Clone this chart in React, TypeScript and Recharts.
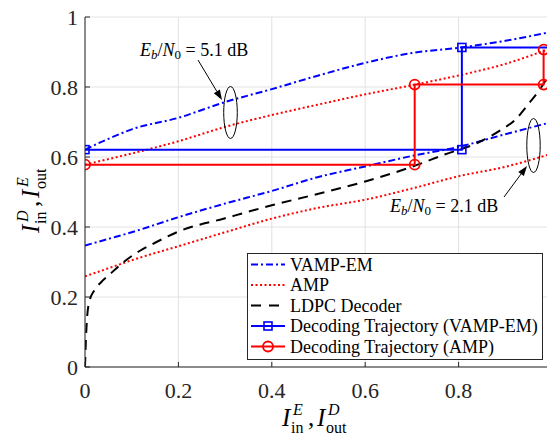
import React from 'react';
import { LineChart, Line, XAxis, YAxis, CartesianGrid } from 'recharts';

// axis ticks
const xTicks = [0, 0.2, 0.4, 0.6, 0.8, 1];
const yTicks = [0, 0.2, 0.4, 0.6, 0.8, 1];

// EXIT curves (shared x grid)
const curveX = [0, 0.05, 0.1, 0.2, 0.3, 0.4, 0.5, 0.6, 0.7, 0.8, 0.9, 1.0];
const vampHigh = [0.621, 0.652, 0.679, 0.712, 0.757, 0.794, 0.833, 0.869, 0.897, 0.912, 0.932, 0.958];
const ampHigh = [0.578, 0.594, 0.61, 0.645, 0.686, 0.72, 0.75, 0.779, 0.805, 0.833, 0.866, 0.912];
const vampLow = [0.347, 0.366, 0.385, 0.428, 0.467, 0.503, 0.543, 0.573, 0.603, 0.629, 0.665, 0.7];
const ampLow = [0.259, 0.282, 0.305, 0.345, 0.385, 0.424, 0.455, 0.478, 0.51, 0.545, 0.572, 0.61];

// LDPC decoder curve
const ldpcX = [0, 0.002, 0.005, 0.01, 0.02, 0.035, 0.05, 0.08, 0.115, 0.15, 0.2, 0.3, 0.4, 0.5, 0.6, 0.7, 0.77, 0.84, 0.89, 0.92, 0.95, 0.975, 1.0];
const ldpcY = [0, 0.08, 0.15, 0.19, 0.219, 0.243, 0.261, 0.297, 0.33, 0.355, 0.387, 0.425, 0.462, 0.495, 0.53, 0.572, 0.607, 0.64, 0.677, 0.705, 0.752, 0.795, 0.85];

// decoding trajectories
const vampTrajX = [0, 0.807, 0.807, 1.0];
const vampTrajY = [0.621, 0.621, 0.913, 0.913];
const ampTrajX = [0, 0.706, 0.706, 0.982, 0.982];
const ampTrajY = [0.578, 0.578, 0.807, 0.807, 0.907];

const zip = (xs: number[], ys: number[]) => xs.map((x, i) => ({ x, y: ys[i] }));

const BLUE = '#0000ff';
const RED = '#ff0000';
const AXIS = '#262626';
const FONT = "'Liberation Serif', 'Times New Roman', Tinos, 'DejaVu Serif', serif";
const serif = { fontFamily: FONT };

const fmt = (v: number) => (v === 0 ? '0' : v === 1 ? '1' : String(v));

// the picture is cropped just before x = 1, so that label is not shown
const BottomTick = (p: any) => (
  <g>
    <line x1={p.x} y1={p.y} x2={p.x} y2={p.y - 5} stroke={AXIS} />
    {p.payload.value < 1 && (
      <text x={p.x} y={p.y + 31} textAnchor="middle" fontSize={22} fill={AXIS} style={serif}>
        {fmt(p.payload.value)}
      </text>
    )}
  </g>
);

const TopTick = (p: any) => <line x1={p.x} y1={p.y} x2={p.x} y2={p.y + 5} stroke={AXIS} />;

const LeftTick = (p: any) => (
  <g>
    <line x1={p.x} y1={p.y} x2={p.x + 5} y2={p.y} stroke={AXIS} />
    <text x={p.x - 7} y={p.y + 8} textAnchor="end" fontSize={22} fill={AXIS} style={serif}>
      {fmt(p.payload.value)}
    </text>
  </g>
);

const SquareDot = (p: any) => (
  <rect key={`s${p.index}`} x={p.cx - 4} y={p.cy - 4} width={8} height={8} fill="none" stroke={BLUE} strokeWidth={1.6} />
);
const CircleDot = (p: any) => (
  <circle key={`c${p.index}`} cx={p.cx} cy={p.cy} r={5} fill="none" stroke={RED} strokeWidth={1.8} />
);

// I^a_b , I^c_d
const AxisTitle = ({ a, b, c, d }: { a: string; b: string; c: string; d: string }) => (
  <g fill="#000" style={serif}>
    <text x={0} y={0} fontSize={25} fontStyle="italic">I</text>
    <text x={11} y={-11} fontSize={16} fontStyle="italic">{a}</text>
    <text x={9} y={7} fontSize={16}>{b}</text>
    <text x={26} y={0} fontSize={25}>,</text>
    <text x={35} y={0} fontSize={25} fontStyle="italic">I</text>
    <text x={46} y={-11} fontSize={16} fontStyle="italic">{c}</text>
    <text x={44} y={7} fontSize={16}>{d}</text>
  </g>
);

const Arrow = ({ x1, y1, x2, y2 }: { x1: number; y1: number; x2: number; y2: number }) => {
  const dx = x2 - x1;
  const dy = y2 - y1;
  const len = Math.hypot(dx, dy);
  const ux = dx / len;
  const uy = dy / len;
  const bx = x2 - ux * 10;
  const by = y2 - uy * 10;
  const pts = `${x2},${y2} ${bx - uy * 3.5},${by + ux * 3.5} ${bx + uy * 3.5},${by - ux * 3.5}`;
  return (
    <g>
      <line x1={x1} y1={y1} x2={bx} y2={by} stroke="#000" strokeWidth={1} />
      <polygon points={pts} fill="#000" />
    </g>
  );
};

const EbN0 = ({ x, y, val }: { x: number; y: number; val: string }) => (
  <text x={x} y={y} fontSize={18} fill="#000" style={{ ...serif, whiteSpace: 'pre' }}>
    <tspan fontStyle="italic">E</tspan>
    <tspan fontStyle="italic" fontSize={13} dy={3}>b</tspan>
    <tspan dy={-3}>/</tspan>
    <tspan fontStyle="italic">N</tspan>
    <tspan fontSize={13} dy={3}>0</tspan>
    <tspan dy={-3}>{` = ${val} dB`}</tspan>
  </text>
);

const legendItems = [
  { label: 'VAMP-EM', color: BLUE, dash: '7 3 2 3', marker: null },
  { label: 'AMP', color: RED, dash: '2 2.5', marker: null },
  { label: 'LDPC Decoder', color: '#000', dash: '10 8', marker: null },
  { label: 'Decoding Trajectory (VAMP-EM)', color: BLUE, dash: undefined, marker: 'square' },
  { label: 'Decoding Trajectory (AMP)', color: RED, dash: undefined, marker: 'circle' },
];

const Legend = () => (
  <svg width={296} height={107} style={{ position: 'absolute', left: 247, top: 253 }}>
    <rect x={0.5} y={0.5} width={295} height={106} fill="#fff" stroke={AXIS} strokeWidth={1} />
    {legendItems.map((it, i) => {
      const cy = 11.5 + i * 20.5;
      return (
        <g key={it.label}>
          <line x1={4} y1={cy} x2={38} y2={cy} stroke={it.color} strokeWidth={2} strokeDasharray={it.dash} />
          {it.marker === 'square' && <rect x={17} y={cy - 4} width={8} height={8} fill="none" stroke={BLUE} strokeWidth={1.6} />}
          {it.marker === 'circle' && <circle cx={21} cy={cy} r={5} fill="none" stroke={RED} strokeWidth={1.8} />}
          <text x={43} y={cy + 6} fontSize={18} fill="#000" style={serif}>{it.label}</text>
        </g>
      );
    })}
  </svg>
);

export default function App() {
  return (
    <div
      style={{
        position: 'fixed',
        left: 0,
        top: 0,
        width: 547,
        height: 435,
        overflow: 'hidden',
        background: '#fff',
        fontFamily: FONT,
      }}
    >
      <LineChart width={560} height={435} margin={{ top: 17, right: 8, bottom: 0, left: 0 }}>
        <CartesianGrid xAxisId="b" yAxisId="l" stroke="#e2e2e2" strokeWidth={1} />
        <XAxis
          xAxisId="b"
          type="number"
          dataKey="x"
          domain={[0, 1]}
          ticks={xTicks}
          height={68}
          tickSize={0}
          tickMargin={0}
          tickLine={false}
          axisLine={{ stroke: AXIS }}
          tick={BottomTick}
          allowDataOverflow
        />
        <XAxis
          xAxisId="t"
          orientation="top"
          type="number"
          dataKey="x"
          domain={[0, 1]}
          ticks={xTicks}
          height={0}
          tickSize={0}
          tickMargin={0}
          tickLine={false}
          axisLine={{ stroke: AXIS }}
          tick={TopTick}
        />
        <YAxis
          yAxisId="l"
          type="number"
          dataKey="y"
          domain={[0, 1]}
          ticks={yTicks}
          width={85}
          tickSize={0}
          tickMargin={0}
          tickLine={false}
          axisLine={{ stroke: AXIS }}
          tick={LeftTick}
          allowDataOverflow
        />
        <Line xAxisId="b" yAxisId="l" data={zip(curveX, vampHigh)} dataKey="y" type="monotone" stroke={BLUE} strokeWidth={2} strokeDasharray="7 3 2 3" dot={false} isAnimationActive={false} />
        <Line xAxisId="b" yAxisId="l" data={zip(curveX, vampLow)} dataKey="y" type="monotone" stroke={BLUE} strokeWidth={2} strokeDasharray="7 3 2 3" dot={false} isAnimationActive={false} />
        <Line xAxisId="b" yAxisId="l" data={zip(curveX, ampHigh)} dataKey="y" type="monotone" stroke={RED} strokeWidth={2} strokeDasharray="2 2.5" dot={false} isAnimationActive={false} />
        <Line xAxisId="b" yAxisId="l" data={zip(curveX, ampLow)} dataKey="y" type="monotone" stroke={RED} strokeWidth={2} strokeDasharray="2 2.5" dot={false} isAnimationActive={false} />
        <Line xAxisId="b" yAxisId="l" data={zip(ldpcX, ldpcY)} dataKey="y" type="monotone" stroke="#000" strokeWidth={2} strokeDasharray="10 7" dot={false} isAnimationActive={false} />
        <Line xAxisId="b" yAxisId="l" data={zip(vampTrajX, vampTrajY)} dataKey="y" type="linear" stroke={BLUE} strokeWidth={2} dot={SquareDot} isAnimationActive={false} />
        <Line xAxisId="b" yAxisId="l" data={zip(ampTrajX, ampTrajY)} dataKey="y" type="linear" stroke={RED} strokeWidth={2} dot={CircleDot} isAnimationActive={false} />
      </LineChart>

      <svg width={547} height={435} style={{ position: 'absolute', left: 0, top: 0, pointerEvents: 'none' }}>
        <EbN0 x={140} y={55.5} val="5.1" />
        <Arrow x1={198} y1={60} x2={222} y2={100} />
        <ellipse cx={230.5} cy={112.5} rx={6.8} ry={26} fill="none" stroke="#000" strokeWidth={1} />

        <EbN0 x={390} y={212} val="2.1" />
        <Arrow x1={504} y1={197} x2={527} y2={166} />
        <ellipse cx={533.5} cy={145.5} rx={6.7} ry={27} fill="none" stroke="#000" strokeWidth={1} />

        <g transform="translate(282,426)">
          <AxisTitle a="E" b="in" c="D" d="out" />
        </g>
        <g transform="translate(39,233) rotate(-90)">
          <AxisTitle a="D" b="in" c="E" d="out" />
        </g>
      </svg>
      <Legend />
    </div>
  );
}
